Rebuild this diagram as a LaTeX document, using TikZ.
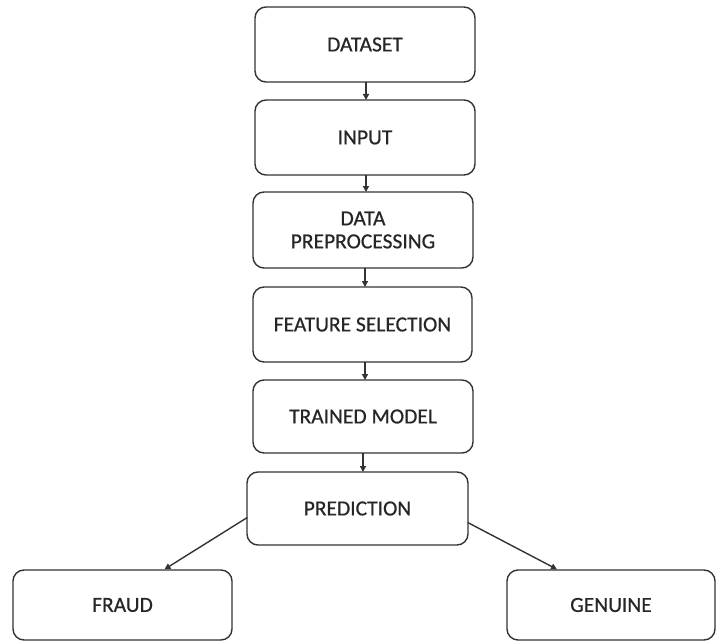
\documentclass[tikz,border=0pt]{standalone}
\usepackage{fontspec}
\setmainfont{Carlito}
\newfontfamily\boxfont{Carlito}[FakeBold=0.6]
\usetikzlibrary{calc,arrows.meta}
\definecolor{edge}{HTML}{333333}
\definecolor{txt}{HTML}{262626}
\begin{document}
\begin{tikzpicture}[x=1pt,y=1pt,
  box/.style={draw=edge, line width=1.4pt, rounded corners=11pt, fill=white,
    text=txt, align=center, font=\boxfont\fontsize{21.5}{23}\selectfont, inner sep=0pt},
  arr/.style={draw=edge, line width=1.4pt, -{Triangle[length=6pt,width=6pt]}}]
\useasboundingbox (0,0) rectangle (716,-642);
\node[box, minimum width=220pt, minimum height=75pt] (dataset) at (365,-44.5) {DATASET};
\node[box, minimum width=220pt, minimum height=75pt] (input) at (365,-137.5) {INPUT};
\node[box, minimum width=220pt, minimum height=76pt] (prep) at (363,-230) {DATA\\PREPROCESSING};
\node[box, minimum width=219pt, minimum height=75pt] (feat) at (362.5,-324.5) {FEATURE SELECTION};
\node[box, minimum width=220pt, minimum height=73pt] (model) at (363,-416.5) {TRAINED MODEL};
\node[box, minimum width=221pt, minimum height=73pt] (pred) at (357.5,-508.5) {PREDICTION};
\node[box, minimum width=219pt, minimum height=70pt] (fraud) at (122.5,-605) {FRAUD};
\node[box, minimum width=208pt, minimum height=70pt] (genuine) at (611,-605) {GENUINE};
\coordinate (a1) at (366,-82);  \coordinate (b1) at (366,-100);
\coordinate (a2) at (366,-175); \coordinate (b2) at (366,-192);
\coordinate (a3) at (365,-268); \coordinate (b3) at (365,-287);
\coordinate (a4) at (365,-362); \coordinate (b4) at (365,-380);
\coordinate (a5) at (363,-453); \coordinate (b5) at (363,-472);
\draw[arr] (a1) -- (b1);
\draw[arr] (a2) -- (b2);
\draw[arr] (a3) -- (b3);
\draw[arr] (a4) -- (b4);
\draw[arr] (a5) -- (b5);
\draw[arr] ($(pred.west)+(1,-9)$) -- ($(fraud.north)+(42,0)$);
\draw[arr] ($(pred.east)+(-1,-14)$) -- ($(genuine.north)+(-54,0)$);
\end{tikzpicture}
\end{document}
